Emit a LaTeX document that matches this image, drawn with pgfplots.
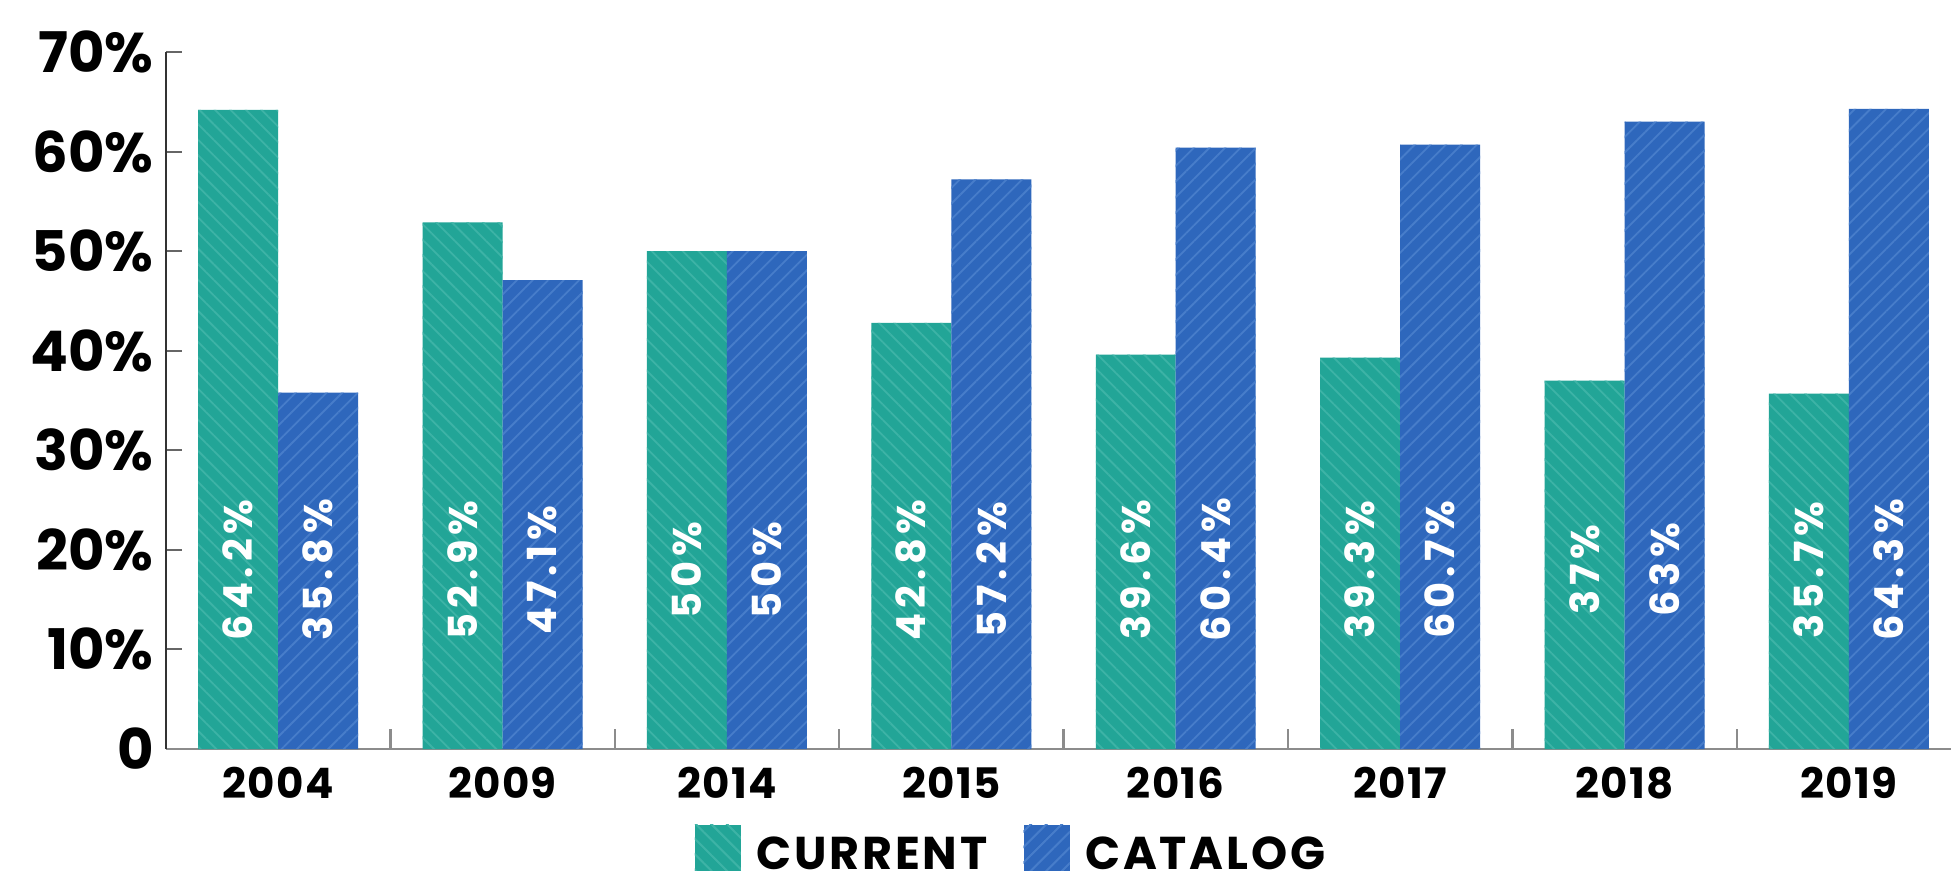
\documentclass[border=0pt]{standalone}
\usepackage{fontspec}
\setmainfont{Poppins}
\usepackage{pgfplots}
\pgfplotsset{compat=1.18}
\usetikzlibrary{patterns.meta}
\definecolor{curc}{HTML}{22A597}
\definecolor{catc}{HTML}{2E67BC}
\definecolor{curs}{HTML}{3DB3A6}
\definecolor{cats}{HTML}{477DCA}
\newcommand\tfont[1]{\fontsize{#1}{#1}\selectfont\bfseries}
\begin{document}
\begin{tikzpicture}
\path[use as bounding box] (-83pt,-63pt) rectangle (892.5pt,374.5pt);
\begin{axis}[
  at={(0pt,0pt)}, anchor=south west,
  scale only axis, width=892.5pt, height=348.5pt,
  xmin=-0.5, xmax=7.455, ymin=0, ymax=70,
  axis lines=left,
  x axis line style={draw=black!45, line width=1.2pt, -},
  y axis line style={draw=black!80, line width=1.2pt, -},
  tick align=inside,
  ytick={0,10,...,70},
  yticklabels={0,10\%,20\%,30\%,40\%,50\%,60\%,70\%},
  major y tick style={draw=black!60, line width=1pt},
  major tick length=8pt,
  xtick={0,...,7},
  xticklabels={2004,2009,2014,2015,2016,2017,2018,2019},
  major x tick style={draw=none},
  minor xtick={0.5,1.5,...,6.5},
  minor x tick style={draw=black!45, line width=1.2pt},
  minor tick length=10pt,
  /pgf/number format/assume math mode=true,
  yticklabel style={font=\tfont{28}, anchor=east, inner sep=0pt, xshift=-6pt},
  xticklabel style={font=\tfont{21}\addfontfeatures{LetterSpace=3}, anchor=north, inner sep=0pt, yshift=-9pt},
  legend style={at={(0.474,-0.146)}, anchor=center, draw=none, fill=none,
    legend columns=2, font=\tfont{23}\addfontfeatures{LetterSpace=6},
    /tikz/every even column/.append style={column sep=16pt}},
  clip=false,
]
\addplot[ybar, bar width=0.3565, bar shift=-0.17825, draw=none, fill=curc,
  postaction={pattern={Lines[angle=-45,distance=5.5pt,line width=0.9pt]}, pattern color=curs},
  legend image code/.code={\fill[curc, postaction={pattern={Lines[angle=-45,distance=5.5pt,line width=0.9pt]}, pattern color=curs}] (0pt,-8pt) rectangle (23pt,15pt); \path (29pt,0pt);}]
  coordinates {(0,64.2) (1,52.9) (2,50) (3,42.8) (4,39.6) (5,39.3) (6,37) (7,35.7)};
\addlegendentry{CURRENT}
\addplot[ybar, bar width=0.3565, bar shift=0.17825, draw=none, fill=catc,
  postaction={pattern={Lines[angle=45,distance=5.5pt,line width=0.9pt]}, pattern color=cats},
  legend image code/.code={\fill[catc, postaction={pattern={Lines[angle=45,distance=5.5pt,line width=0.9pt]}, pattern color=cats}] (0pt,-8pt) rectangle (23pt,15pt); \path (29pt,0pt);}]
  coordinates {(0,35.8) (1,47.1) (2,50) (3,57.2) (4,60.4) (5,60.7) (6,63) (7,64.3)};
\addlegendentry{CATALOG}
\addplot[draw=none, mark=none, forget plot, nodes near coords, point meta=explicit symbolic,
  every node near coord/.append style={rotate=90, anchor=center, text=white, inner sep=0pt,
    font=\tfont{20}\addfontfeatures{LetterSpace=12}}]
  coordinates {(-0.17825,18) [64.2\%] (0.82175,18) [52.9\%] (1.82175,18) [50\%] (2.82175,18) [42.8\%]
               (3.82175,18) [39.6\%] (4.82175,18) [39.3\%] (5.82175,18) [37\%] (6.82175,18) [35.7\%]};
\addplot[draw=none, mark=none, forget plot, nodes near coords, point meta=explicit symbolic,
  every node near coord/.append style={rotate=90, anchor=center, text=white, inner sep=0pt,
    font=\tfont{20}\addfontfeatures{LetterSpace=12}}]
  coordinates {(0.17825,18) [35.8\%] (1.17825,18) [47.1\%] (2.17825,18) [50\%] (3.17825,18) [57.2\%]
               (4.17825,18) [60.4\%] (5.17825,18) [60.7\%] (6.17825,18) [63\%] (7.17825,18) [64.3\%]};
\end{axis}
\end{tikzpicture}
\end{document}
